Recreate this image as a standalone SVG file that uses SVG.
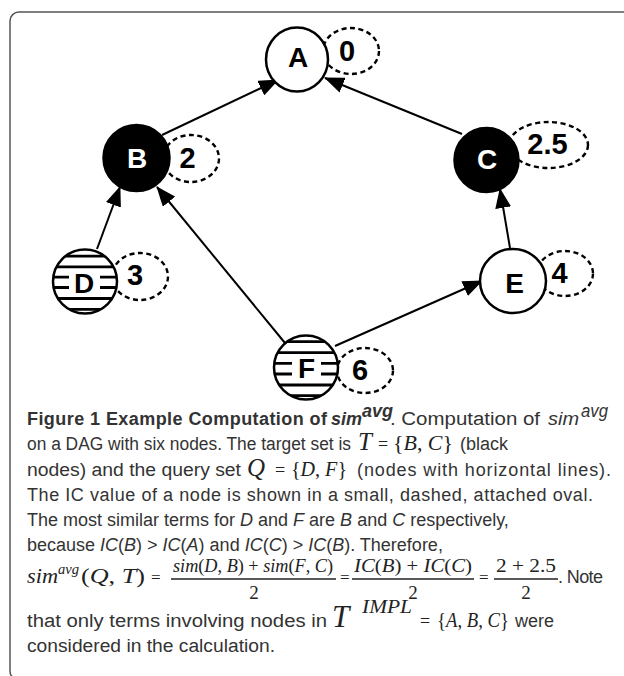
<svg xmlns="http://www.w3.org/2000/svg" width="624" height="676" viewBox="0 0 624 676">
<style>
.ring{fill:#fff;stroke:#000;stroke-width:2.5}
.blk{fill:#000;stroke:#000;stroke-width:2.5}
.oval{fill:none;stroke:#000;stroke-width:2.4;stroke-dasharray:5 3.5}
.lbl{font-family:"Liberation Sans Narrow","Liberation Sans",Arial,sans-serif;font-weight:bold;font-size:28px;text-anchor:middle}
.ic{font-family:"Liberation Sans Narrow","Liberation Sans",Arial,sans-serif;font-weight:bold;font-size:29px;text-anchor:middle}
.hl{stroke:#000;stroke-width:2.8}
.edge{stroke:#000;stroke-width:2;fill:none;marker-end:url(#ah)}
.cap{font-family:"Liberation Sans",Arial,sans-serif;font-size:18px;fill:#333}
.b{font-weight:bold}
.i{font-style:italic}
.m{font-family:"Liberation Serif","Times New Roman",serif;font-style:italic;fill:#222}
.mr{font-family:"Liberation Serif","Times New Roman",serif;fill:#222}
</style>
<defs>
<marker id="ah" markerUnits="userSpaceOnUse" markerWidth="20" markerHeight="16" refX="19" refY="8" orient="auto">
<path d="M0,0 L20,8 L0,16 Z" fill="#000"/>
</marker>
<clipPath id="cc"><circle cx="0" cy="0" r="32"/></clipPath>
</defs>
<rect x="10" y="12" width="640" height="668" rx="9" fill="none" stroke="#555" stroke-width="1.5"/>
<g id="connectors">
<line class="edge" x1="162" y1="135" x2="278" y2="80"/>
<line class="edge" x1="462" y1="134" x2="325" y2="78"/>
<line class="edge" x1="97" y1="249" x2="120" y2="187"/>
<line class="edge" x1="285" y1="343" x2="157" y2="187"/>
<line class="edge" x1="510" y1="248" x2="500" y2="189"/>
<line class="edge" x1="335" y1="346" x2="482" y2="281"/>
</g>
<g id="node-A">
<ellipse class="oval" cx="351" cy="51" rx="28" ry="23"/>
<ellipse class="ring" cx="297" cy="59.5" rx="31" ry="32"/>
<text class="lbl" x="298" y="67">A</text>
<text class="ic" x="347" y="61">0</text>
</g>
<g id="node-B">
<ellipse class="oval" cx="191" cy="158.5" rx="28" ry="23.5"/>
<circle class="blk" cx="136.5" cy="158" r="33"/>
<text class="lbl" x="137" y="168" fill="#fff">B</text>
<text class="ic" x="187.5" y="168">2</text>
</g>
<g id="node-C">
<ellipse class="oval" cx="548.5" cy="145" rx="39.5" ry="23"/>
<circle class="blk" cx="486.5" cy="160" r="32"/>
<text class="lbl" x="487" y="169" fill="#fff">C</text>
<text class="ic" x="547.5" y="154">2.5</text>
</g>
<g id="node-D">
<ellipse class="oval" cx="140" cy="276.5" rx="28" ry="23.5"/>
<g transform="translate(85,281.5)">
<circle cx="0" cy="0" r="32" fill="#fff"/>
<g clip-path="url(#cc)">
<line class="hl" x1="-40" y1="-25.3" x2="40" y2="-25.3"/>
<line class="hl" x1="-40" y1="-14.7" x2="40" y2="-14.7"/>
<line class="hl" x1="-40" y1="-4.3" x2="40" y2="-4.3"/>
<line class="hl" x1="-40" y1="6" x2="40" y2="6"/>
<line class="hl" x1="-40" y1="17" x2="40" y2="17"/>
<line class="hl" x1="-40" y1="27.8" x2="40" y2="27.8"/>
</g>
<rect x="-16" y="-10" width="31" height="22" fill="#fff"/>
<circle cx="0" cy="0" r="32" fill="none" stroke="#000" stroke-width="2.5"/>
<text class="lbl" x="-1" y="11.5">D</text>
</g>
<text class="ic" x="135" y="285">3</text>
</g>
<g id="node-E">
<ellipse class="oval" cx="565" cy="273.5" rx="28" ry="22.5"/>
<ellipse class="ring" cx="513" cy="281" rx="33" ry="32"/>
<text class="lbl" x="514.5" y="293">E</text>
<text class="ic" x="559.5" y="283">4</text>
</g>
<g id="node-F">
<ellipse class="oval" cx="365" cy="370.5" rx="28" ry="22.5"/>
<g transform="translate(306,367.5)">
<circle cx="0" cy="0" r="32" fill="#fff"/>
<g clip-path="url(#cc)">
<line class="hl" x1="-40" y1="-25.8" x2="40" y2="-25.8"/>
<line class="hl" x1="-40" y1="-14.8" x2="40" y2="-14.8"/>
<line class="hl" x1="-40" y1="-4.2" x2="40" y2="-4.2"/>
<line class="hl" x1="-40" y1="6.5" x2="40" y2="6.5"/>
<line class="hl" x1="-40" y1="17.5" x2="40" y2="17.5"/>
<line class="hl" x1="-40" y1="28.2" x2="40" y2="28.2"/>
</g>
<rect x="-14" y="-10" width="29" height="22" fill="#fff"/>
<circle cx="0" cy="0" r="32" fill="none" stroke="#000" stroke-width="2.5"/>
<text class="lbl" x="0.5" y="10.5">F</text>
</g>
<text class="ic" x="360" y="380">6</text>
</g>
<g id="caption">
<text class="cap b" x="27" y="425" textLength="300" lengthAdjust="spacing">Figure 1 Example Computation of</text>
<text class="cap b i" x="331" y="425">sim</text>
<text class="cap b i" x="362" y="417" font-size="13">avg</text>
<text class="cap" x="390" y="425" textLength="150" lengthAdjust="spacingAndGlyphs">. Computation of</text>
<text class="cap i" x="548" y="425" textLength="31" lengthAdjust="spacingAndGlyphs">sim</text>
<text class="cap i" x="581" y="417" font-size="13.5" textLength="27" lengthAdjust="spacingAndGlyphs">avg</text>

<text class="cap" x="27" y="450" textLength="324" lengthAdjust="spacingAndGlyphs">on a DAG with six nodes. The target set is</text>
<text class="m" x="358" y="450" font-size="25">T</text>
<text class="mr" x="378" y="450" font-size="18">=</text>
<text class="mr" x="393" y="450" font-size="22" textLength="60" lengthAdjust="spacingAndGlyphs">{<tspan class="m">B</tspan>, <tspan class="m">C</tspan>}</text>
<text class="cap" x="460" y="450">(black</text>

<text class="cap" x="27" y="476" textLength="214" lengthAdjust="spacingAndGlyphs">nodes) and the query set</text>
<text class="m" x="247" y="476" font-size="25">Q</text>
<text class="mr" x="275" y="476" font-size="18">=</text>
<text class="mr" x="291" y="476" font-size="22" textLength="56" lengthAdjust="spacingAndGlyphs">{<tspan class="m">D</tspan>, <tspan class="m">F</tspan>}</text>
<text class="cap" x="357" y="476" textLength="254" lengthAdjust="spacing">(nodes with horizontal lines).</text>

<text class="cap" x="27" y="501" textLength="566" lengthAdjust="spacing">The IC value of a node is shown in a small, dashed, attached oval.</text>

<text class="cap" x="27" y="526">The most similar terms for <tspan class="i">D</tspan> and <tspan class="i">F</tspan> are <tspan class="i">B</tspan> and <tspan class="i">C</tspan> respectively,</text>

<text class="cap" x="27" y="551">because <tspan class="i">IC</tspan>(<tspan class="i">B</tspan>) &gt; <tspan class="i">IC</tspan>(<tspan class="i">A</tspan>) and <tspan class="i">IC</tspan>(<tspan class="i">C</tspan>) &gt; <tspan class="i">IC</tspan>(<tspan class="i">B</tspan>). Therefore,</text>

<text class="m" x="27" y="583" font-size="20" textLength="31" lengthAdjust="spacingAndGlyphs">sim</text>
<text class="m" x="58" y="574" font-size="14" textLength="21" lengthAdjust="spacingAndGlyphs">avg</text>
<text class="mr" x="81" y="583" font-size="22" textLength="64" lengthAdjust="spacingAndGlyphs">(<tspan class="m">Q</tspan>, <tspan class="m">T</tspan>)</text>
<text class="mr" x="151" y="583" font-size="17">=</text>
<text class="mr" x="173" y="572" font-size="19" textLength="160" lengthAdjust="spacingAndGlyphs"><tspan class="m">sim</tspan>(<tspan class="m">D</tspan>, <tspan class="m">B</tspan>) + <tspan class="m">sim</tspan>(<tspan class="m">F</tspan>, <tspan class="m">C</tspan>)</text>
<line x1="171" y1="579" x2="336" y2="579" stroke="#222" stroke-width="1.3"/>
<text class="mr" x="254" y="599" font-size="19" text-anchor="middle">2</text>
<text class="mr" x="340" y="583" font-size="17">=</text>
<text class="mr" x="354" y="572" font-size="19" textLength="118" lengthAdjust="spacingAndGlyphs"><tspan class="m">IC</tspan>(<tspan class="m">B</tspan>) + <tspan class="m">IC</tspan>(<tspan class="m">C</tspan>)</text>
<line x1="352" y1="579" x2="474" y2="579" stroke="#222" stroke-width="1.3"/>
<text class="mr" x="413" y="599" font-size="19" text-anchor="middle">2</text>
<text class="mr" x="479" y="583" font-size="17">=</text>
<text class="mr" x="496" y="572" font-size="19" textLength="60" lengthAdjust="spacingAndGlyphs">2 + 2.5</text>
<line x1="494" y1="579" x2="558" y2="579" stroke="#222" stroke-width="1.3"/>
<text class="mr" x="526" y="599" font-size="19" text-anchor="middle">2</text>
<text class="cap" x="558" y="583" textLength="45" lengthAdjust="spacing">. Note</text>

<text class="cap" x="27" y="627" textLength="300" lengthAdjust="spacingAndGlyphs">that only terms involving nodes in</text>
<text class="m" x="332" y="627" font-size="31">T</text>
<text class="m" x="362" y="613" font-size="19" textLength="50" lengthAdjust="spacingAndGlyphs">IMPL</text>
<text class="mr" x="420" y="627" font-size="18">=</text>
<text class="mr" x="437" y="627" font-size="22" textLength="72" lengthAdjust="spacingAndGlyphs">{<tspan class="m">A</tspan>, <tspan class="m">B</tspan>, <tspan class="m">C</tspan>}</text>
<text class="cap" x="515" y="627">were</text>

<text class="cap" x="27" y="652" textLength="248" lengthAdjust="spacingAndGlyphs">considered in the calculation.</text>
</g>
</svg>
